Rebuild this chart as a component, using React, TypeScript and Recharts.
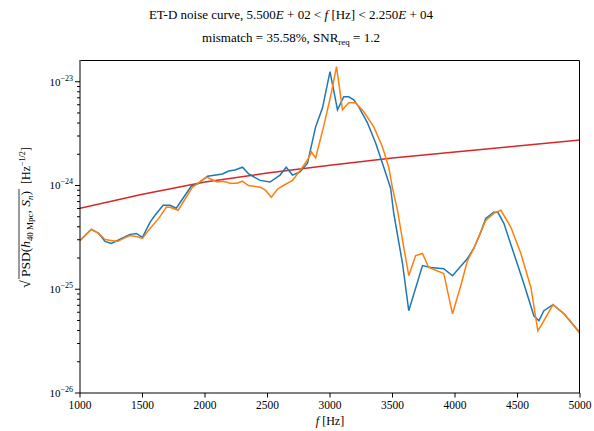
import React from 'react';
import { LineChart, Line, XAxis, YAxis } from 'recharts';

// frequencies [Hz] and sqrt(PSD) values
const blueFreq = [1000, 1090, 1150, 1200, 1250, 1300, 1350, 1400, 1450, 1500, 1560, 1600, 1665, 1720, 1770, 1890, 1950, 2000, 2020, 2140, 2190, 2240, 2300, 2350, 2440, 2520, 2600, 2650, 2700, 2760, 2820, 2885, 2940, 3000, 3060, 3110, 3150, 3190, 3230, 3300, 3365, 3430, 3485, 3510, 3580, 3630, 3740, 3805, 3910, 3980, 4100, 4150, 4200, 4246, 4310, 4343, 4391, 4471, 4551, 4631, 4671, 4711, 4784, 4872, 4952, 5000];
const blueVal = [2.95e-25, 3.78e-25, 3.45e-25, 2.89e-25, 2.76e-25, 2.95e-25, 3.16e-25, 3.38e-25, 3.45e-25, 3.16e-25, 4.41e-25, 5.16e-25, 6.45e-25, 6.45e-25, 6.03e-25, 9.84e-25, 1.05e-24, 1.18e-24, 1.23e-24, 1.29e-24, 1.38e-24, 1.41e-24, 1.5e-24, 1.29e-24, 1.12e-24, 1.08e-24, 1.26e-24, 1.5e-24, 1.26e-24, 1.35e-24, 1.64e-24, 3.67e-24, 5.6e-24, 1.25e-23, 5.36e-24, 7.16e-24, 7.16e-24, 6.69e-24, 5.73e-24, 4.01e-24, 2.57e-24, 1.5e-24, 9.42e-25, 5.39e-25, 1.77e-25, 6.21e-26, 1.69e-25, 1.62e-25, 1.58e-25, 1.35e-25, 1.98e-25, 2.47e-25, 3.4e-25, 4.82e-25, 5.51e-25, 5.51e-25, 4.32e-25, 2.21e-25, 1.13e-25, 5.55e-26, 4.97e-26, 6.21e-26, 7.09e-26, 5.8e-26, 4.44e-26, 3.8e-26];

const orangeFreq = [1000, 1090, 1150, 1200, 1250, 1300, 1350, 1400, 1450, 1500, 1560, 1630, 1690, 1720, 1785, 1900, 2000, 2017, 2098, 2146, 2202, 2258, 2298, 2347, 2443, 2483, 2531, 2579, 2627, 2700, 2764, 2820, 2852, 2885, 2948, 3004, 3052, 3100, 3150, 3205, 3270, 3350, 3420, 3470, 3500, 3540, 3590, 3630, 3685, 3740, 3790, 3910, 3980, 4046, 4100, 4150, 4246, 4310, 4367, 4447, 4527, 4607, 4663, 4711, 4784, 4872, 4952, 5000];
const orangeVal = [2.95e-25, 3.78e-25, 3.45e-25, 3.02e-25, 2.95e-25, 2.89e-25, 3.09e-25, 3.3e-25, 3.23e-25, 3.09e-25, 3.86e-25, 4.82e-25, 6.16e-25, 6.16e-25, 5.77e-25, 9.63e-25, 1.18e-24, 1.2e-24, 1.08e-24, 1.1e-24, 1.05e-24, 1.05e-24, 1.1e-24, 1.0e-24, 9.63e-25, 9.01e-25, 7.7e-25, 9.21e-25, 1.0e-24, 1.12e-24, 1.41e-24, 1.76e-24, 2.1e-24, 1.84e-24, 3.67e-24, 7.16e-24, 1.4e-23, 5.36e-24, 6.26e-24, 6.26e-24, 5.13e-24, 3.67e-24, 2.35e-24, 1.5e-24, 9.42e-25, 5.77e-25, 2.53e-25, 1.35e-25, 2.11e-25, 2.21e-25, 1.62e-25, 1.42e-25, 5.8e-26, 1.08e-25, 1.89e-25, 2.47e-25, 4.61e-25, 5.39e-25, 5.77e-25, 3.95e-25, 2.21e-25, 1.04e-25, 3.97e-26, 4.97e-26, 7.09e-26, 5.8e-26, 4.44e-26, 3.72e-26];

const redFreq = [1000, 1500, 2000, 2500, 3000, 3500, 4000, 4500, 5000];
const redVal = [6.03e-25, 8.24e-25, 1.08e-24, 1.32e-24, 1.57e-24, 1.84e-24, 2.1e-24, 2.4e-24, 2.74e-24];

const xTicks = [1000, 1500, 2000, 2500, 3000, 3500, 4000, 4500, 5000];
const yMajorTicks = [1e-26, 1e-25, 1e-24, 1e-23];
const yMinorTicks = yMajorTicks.slice(0, 3).flatMap((d) => [2, 3, 4, 5, 6, 7, 8, 9].map((k) => k * d));
const yDomain = [1e-26, 1.62e-23];

const toRows = (fs: number[], vs: number[]) => fs.map((f, i) => ({ f, v: vs[i] }));
const blueData = toRows(blueFreq, blueVal);
const orangeData = toRows(orangeFreq, orangeVal);
const redData = toRows(redFreq, redVal);

const FONT = '"Liberation Serif", "DejaVu Serif", serif';

const YTick = (props: any) => {
  const { x, y, payload } = props;
  const lg = Math.log10(payload.value);
  const e = Math.round(lg);
  const major = Math.abs(lg - e) < 1e-6;
  return (
    <g>
      <line x1={x} x2={x - (major ? 5 : 3)} y1={y} y2={y} stroke="#000" strokeWidth={1} />
      {major && (
        <text x={x - 7} y={y + 4} textAnchor="end" fontFamily={FONT} fontSize={11} fill="#000">
          10<tspan dy={-5} fontSize={8}>{`\u2212${-e}`}</tspan>
        </text>
      )}
    </g>
  );
};

const XTick = (props: any) => {
  const { x, y, payload } = props;
  return (
    <g>
      <line x1={x} x2={x} y1={y} y2={y + 4.5} stroke="#000" />
      <text x={x} y={y + 16} textAnchor="middle" fontFamily={FONT} fontSize={11.5} fill="#000">
        {payload.value}
      </text>
    </g>
  );
};

export default function App() {
  return (
    <div style={{ position: 'fixed', left: 0, top: 0, width: 594, height: 431, background: '#fff' }}>
      <LineChart width={594} height={431} margin={{ top: 60, right: 14, bottom: 8, left: 20 }}>
        <XAxis
          dataKey="f"
          type="number"
          domain={[1000, 5000]}
          ticks={xTicks}
          interval={0}
          height={30}
          tickSize={0}
          tickMargin={0}
          tick={<XTick />}
          tickLine={false}
          axisLine={{ stroke: '#000' }}
          allowDataOverflow
        />
        <YAxis
          scale="log"
          type="number"
          domain={yDomain}
          ticks={[...yMajorTicks, ...yMinorTicks]}
          interval={0}
          width={60}
          tickSize={0}
          tickMargin={0}
          tick={<YTick />}
          tickLine={false}
          axisLine={{ stroke: '#000' }}
          allowDataOverflow
        />
        <Line data={redData} dataKey="v" stroke="#d62728" strokeWidth={1.5} dot={false} isAnimationActive={false} />
        <Line data={blueData} dataKey="v" stroke="#1f77b4" strokeWidth={1.5} dot={false} isAnimationActive={false} />
        <Line data={orangeData} dataKey="v" stroke="#ff7f0e" strokeWidth={1.5} dot={false} isAnimationActive={false} />
      </LineChart>
      <svg width={594} height={431} style={{ position: 'absolute', left: 0, top: 0, pointerEvents: 'none' }}>
        {/* top and right spines */}
        <polyline points="80.5,60.5 579.5,60.5 579.5,393" fill="none" stroke="#000" strokeWidth={1} />
        <g fontFamily={FONT} fill="#000" fontSize={13}>
          <text x={291} y={19} textAnchor="middle">
            ET-D noise curve, 5.500<tspan fontStyle="italic">E</tspan> + 02 {'<'} <tspan fontStyle="italic">f</tspan> [Hz] {'<'} 2.250<tspan fontStyle="italic">E</tspan> + 04
          </text>
          <text x={291} y={42} textAnchor="middle">
            mismatch = 35.58%, SNR<tspan dy={3} fontSize={9}>req</tspan><tspan dy={-3}> = 1.2</tspan>
          </text>
          <text x={330} y={425} textAnchor="middle" fontSize={12}>
            <tspan fontStyle="italic">f</tspan> [Hz]
          </text>
          <g transform="translate(30,288) rotate(-90)" fontSize={12}>
            <text x={0} y={0} fontSize={14}>√</text>
            <line x1={9} x2={99} y1={-11} y2={-11} stroke="#000" strokeWidth={0.8} />
            <text x={11} y={0} textLength={86} lengthAdjust="spacingAndGlyphs">
              PSD(<tspan fontStyle="italic">h</tspan><tspan dy={3} fontSize={8}>40 Mpc</tspan><tspan dy={-3}>, </tspan><tspan fontStyle="italic">S</tspan><tspan dy={3} fontSize={8} fontStyle="italic">n</tspan><tspan dy={-3}>)</tspan>
            </text>
            <text x={104} y={0}>
              [Hz<tspan dy={-5} fontSize={8}>−1/2</tspan><tspan dy={5}>]</tspan>
            </text>
          </g>
        </g>
      </svg>
    </div>
  );
}
